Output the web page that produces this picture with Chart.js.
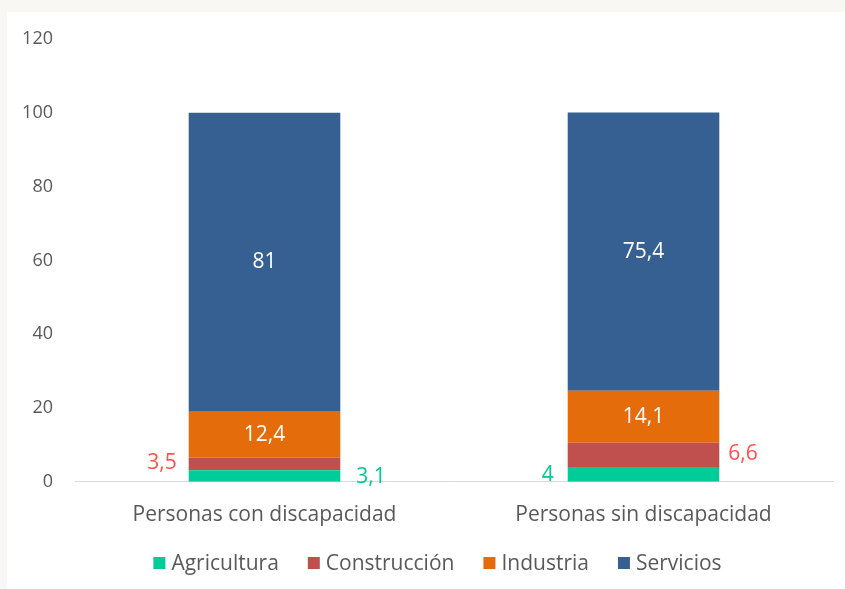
<!DOCTYPE html>
<html>
<head>
<meta charset="utf-8">
<script src="https://cdn.jsdelivr.net/npm/chart.js@4/dist/chart.umd.min.js"></script>
<style>
  html, body { margin: 0; padding: 0; background: #f8f7f3; }
  #panel { position: absolute; left: 7px; top: 12px; width: 838px; height: 577px; background: #ffffff; }
  canvas { display: block; }
</style>
</head>
<body>
<div id="panel"><canvas id="c" width="838" height="577"></canvas></div>
<script>
const categories = ["Personas con discapacidad", "Personas sin discapacidad"];
const agricultura = [3.1, 4];
const construccion = [3.5, 6.6];
const industria = [12.4, 14.1];
const servicios = [81, 75.4];
const yTicks = [0, 20, 40, 60, 80, 100, 120];

const FONT = "'Open Sans', 'DejaVu Sans', sans-serif";

const labelPlugin = {
  id: 'barLabels',
  afterDatasetsDraw(chart) {
    const ctx = chart.ctx;
    ctx.save();
    chart.data.datasets.forEach((ds, di) => {
      const meta = chart.getDatasetMeta(di);
      const pl = ds.labelPlacement;
      meta.data.forEach((bar, i) => {
        const v = ds.data[i];
        const txt = String(v).replace('.', ',');
        const place = pl[i];
        const half = bar.width / 2;
        const cy = (bar.y + bar.base) / 2 + (place.dy || 0);
        ctx.font = "21px " + FONT;
        ctx.textBaseline = 'middle';
        ctx.fillStyle = ds.labelColor;
        if (place.side === 'center') {
          ctx.textAlign = 'center';
          ctx.fillText(txt, bar.x, cy);
        } else if (place.side === 'left') {
          ctx.textAlign = 'right';
          ctx.fillText(txt, bar.x - half - (place.gap || 12), cy);
        } else {
          ctx.textAlign = 'left';
          ctx.fillText(txt, bar.x + half + (place.gap || 12), cy);
        }
      });
    });
    ctx.restore();
  }
};

const legendPlugin = {
  id: 'customLegend',
  afterDraw(chart) {
    const ctx = chart.ctx;
    ctx.save();
    ctx.font = "21px " + FONT;
    ctx.textBaseline = 'middle';
    const box = 12, boxGap = 6, itemGap = 29;
    const items = chart.data.datasets.map(ds => ({ text: ds.label, color: ds.backgroundColor, w: ctx.measureText(ds.label).width }));
    const total = items.reduce((s, it) => s + box + boxGap + it.w, 0) + itemGap * (items.length - 1);
    let x = 430.5 - total / 2;
    const cy = 551;
    items.forEach(it => {
      ctx.fillStyle = it.color;
      ctx.fillRect(x, cy - box / 2, box, box);
      ctx.fillStyle = '#595959';
      ctx.textAlign = 'left';
      ctx.fillText(it.text, x + box + boxGap, cy + 1);
      x += box + boxGap + it.w + itemGap;
    });
    ctx.restore();
  }
};

new Chart(document.getElementById('c'), {
  type: 'bar',
  data: {
    labels: categories,
    datasets: [
      { label: 'Agricultura', data: agricultura, backgroundColor: '#00cc99', labelColor: '#00c896',
        labelPlacement: [{ side: 'right', dy: 1, gap: 16 }, { side: 'left', dy: 1, gap: 14 }] },
      { label: 'Construcción', data: construccion, backgroundColor: '#c0504d', labelColor: '#ff5050',
        labelPlacement: [{ side: 'left', dy: -1, gap: 12 }, { side: 'right', dy: -1, gap: 9 }] },
      { label: 'Industria', data: industria, backgroundColor: '#e46c0a', labelColor: '#ffffff',
        labelPlacement: [{ side: 'center' }, { side: 'center' }] },
      { label: 'Servicios', data: servicios, backgroundColor: '#376092', labelColor: '#ffffff',
        labelPlacement: [{ side: 'center' }, { side: 'center' }] }
    ]
  },
  options: {
    responsive: false,
    animation: false,
    devicePixelRatio: 1,
    layout: { padding: { left: 10, right: 12, top: 27, bottom: 40 } },
    datasets: { bar: { categoryPercentage: 0.8, barPercentage: 0.5, borderWidth: 0 } },
    scales: {
      x: {
        stacked: true,
        grid: { display: false, drawTicks: false },
        border: { display: true, color: '#d9d9d9', width: 1 },
        ticks: { color: '#595959', font: { family: FONT, size: 21 }, padding: 21 }
      },
      y: {
        stacked: true,
        min: 0, max: 120,
        afterBuildTicks: s => { s.ticks = yTicks.map(v => ({ value: v })); },
        afterFit: s => { s.width = 58; s.paddingTop = 0; s.paddingBottom = 0; },
        grid: { display: false, drawTicks: false },
        border: { display: false },
        ticks: { color: '#595959', font: { family: FONT, size: 18 }, padding: 22 }
      }
    },
    plugins: {
      legend: { display: false },
      tooltip: { enabled: false }
    }
  },
  plugins: [labelPlugin, legendPlugin]
});
</script>
</body>
</html>
